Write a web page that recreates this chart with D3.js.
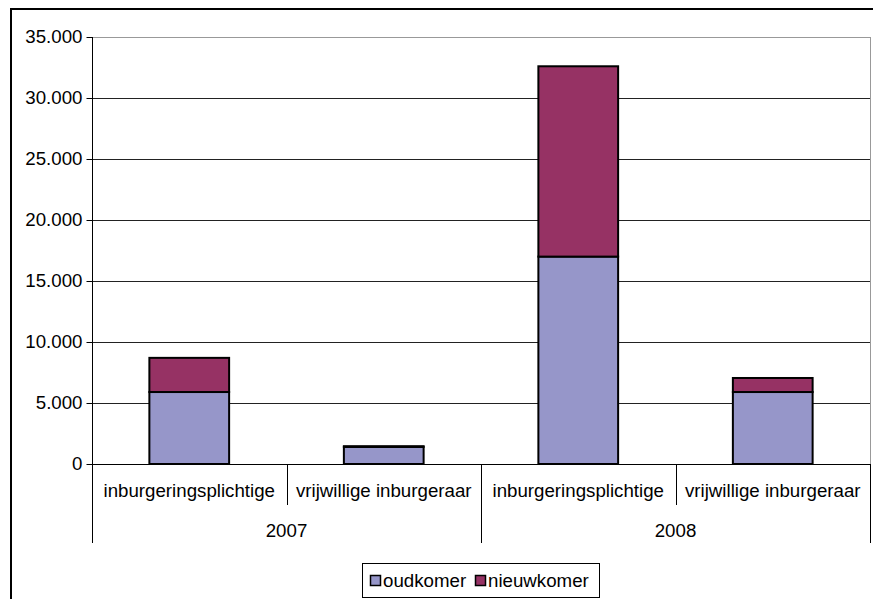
<!DOCTYPE html>
<html><head><meta charset="utf-8">
<script src="https://cdn.jsdelivr.net/npm/d3@7/dist/d3.min.js"></script>
<style>body{margin:0;background:#fff}svg{display:block;font-family:"Liberation Sans",Arial,sans-serif}</style>
</head><body><svg id="c" width="873" height="599"></svg>
<script>
const categories = ["inburgeringsplichtige","vrijwillige inburgeraar","inburgeringsplichtige","vrijwillige inburgeraar"];
const years = ["2007","2008"];
const oudkomer = [5900, 1400, 17000, 5900];
const nieuwkomer = [2800, 60, 15600, 1150];
const seriesNames = ["oudkomer","nieuwkomer"];
const colors = ["#9696C9","#963264"];
const yTicks = [0,5000,10000,15000,20000,25000,30000,35000];

const svg = d3.select("#c");
const L=92, R=870, T=37, B=464;
const FS = 18.7;
const x = d3.scaleBand().domain(d3.range(categories.length)).range([L,R]).paddingInner(0).paddingOuter(0);
const y = d3.scaleLinear().domain([0,35000]).range([B,T]);
const fmt = v => d3.format(",")(v).replace(/,/g,".");

// outer frame
svg.append("line").attr("x1",10).attr("x2",873).attr("y1",9).attr("y2",9).attr("stroke","#000").attr("stroke-width",2);
svg.append("line").attr("x1",11).attr("x2",11).attr("y1",8).attr("y2",599).attr("stroke","#000").attr("stroke-width",2);

// gridlines
svg.append("g").selectAll("line").data(yTicks.filter(d=>d>0)).join("line")
  .attr("x1",L).attr("x2",R).attr("y1",d=>Math.round(y(d))+0.5).attr("y2",d=>Math.round(y(d))+0.5)
  .attr("stroke",d=>d===35000?"#999":"#222").attr("stroke-width",1);
// plot right border
svg.append("line").attr("x1",R+0.5).attr("x2",R+0.5).attr("y1",T).attr("y2",B).attr("stroke","#999");

// y axis
const ya = svg.append("g").attr("transform",`translate(${L+0.5},0)`)
  .call(d3.axisLeft(y).tickValues(yTicks).tickFormat(fmt).tickSize(6).tickPadding(4));
ya.select(".domain").remove();
ya.selectAll("line").attr("stroke","#000");
ya.selectAll("text").attr("font-size",FS).attr("fill","#000").attr("font-family","Liberation Sans, Arial, sans-serif");
svg.append("line").attr("x1",L+0.5).attr("x2",L+0.5).attr("y1",T).attr("y2",543).attr("stroke","#000");

// bars
const stacked = d3.stack().keys(seriesNames)(categories.map((c,i)=>({oudkomer:oudkomer[i],nieuwkomer:nieuwkomer[i]})));
const bw = x.bandwidth()*0.41;
stacked.forEach((s,si)=>{
  svg.append("g").selectAll("rect").data(s).join("rect")
    .attr("x",(d,i)=>x(i)+x.bandwidth()/2-bw/2)
    .attr("y",d=>y(d[1]))
    .attr("width",bw)
    .attr("height",d=>y(d[0])-y(d[1]))
    .attr("fill",colors[si]).attr("stroke","#000").attr("stroke-width",2);
});

// x axis baseline
svg.append("line").attr("x1",L).attr("x2",R).attr("y1",B+0.5).attr("y2",B+0.5).attr("stroke","#000");
// category separators
svg.append("g").selectAll("line").data(d3.range(1,categories.length+1)).join("line")
  .attr("x1",i=>Math.round(i===categories.length?R:x(i))+0.5).attr("x2",i=>Math.round(i===categories.length?R:x(i))+0.5)
  .attr("y1",B).attr("y2",i=>(i%2===0)?543:505).attr("stroke","#000");
// category labels
svg.append("g").selectAll("text").data(categories).join("text")
  .attr("x",(d,i)=>x(i)+x.bandwidth()/2).attr("y",497).attr("text-anchor","middle")
  .attr("font-size",FS).text(d=>d);
// year labels
svg.append("g").selectAll("text").data(years).join("text")
  .attr("x",(d,i)=>(x(i*2)+ (i*2+2>=categories.length?R:x(i*2+2)))/2).attr("y",537).attr("text-anchor","middle")
  .attr("font-size",FS).text(d=>d);

// legend
const lg = svg.append("g");
lg.append("rect").attr("x",362.5).attr("y",563.5).attr("width",237).attr("height",34).attr("fill","#fff").attr("stroke","#000");
const lx = [370,475];
seriesNames.forEach((n,i)=>{
  lg.append("rect").attr("x",lx[i]+0.5).attr("y",575.5).attr("width",10).attr("height",10).attr("fill",colors[i]).attr("stroke","#000").attr("stroke-width",1.5);
  lg.append("text").attr("x",lx[i]+13).attr("y",587).attr("font-size",FS).text(n);
});
</script></body></html>
